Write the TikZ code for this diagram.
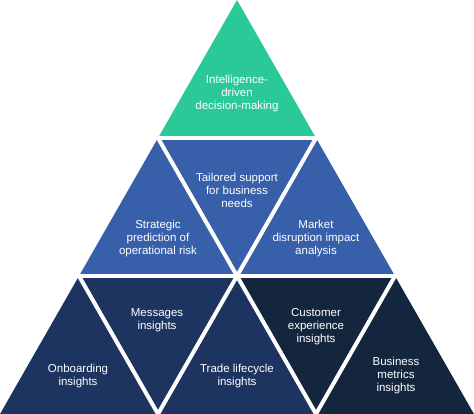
\documentclass[tikz,border=0pt]{standalone}
\usepackage{fontspec}
\setmainfont{Liberation Sans}
\definecolor{cgreen}{RGB}{43,201,152}
\definecolor{cblue}{RGB}{55,95,170}
\definecolor{cnavy}{RGB}{29,52,97}
\definecolor{cdark}{RGB}{20,38,62}
\tikzset{
  lbl/.style={text=white, align=center, font=\fontsize{11.5}{13}\selectfont, inner sep=0pt},
  sep/.style={white, line width=4pt}
}
\begin{document}
\begin{tikzpicture}[x=1pt,y=-1pt]
\useasboundingbox (0,0) rectangle (474,414);
% grid points
\coordinate (A) at (237,0);
\coordinate (L1) at (158,138); \coordinate (R1) at (316,138);
\coordinate (L2) at (79,276); \coordinate (M2) at (237,276); \coordinate (R2) at (395,276);
\coordinate (B0) at (0,414); \coordinate (B1) at (158,414); \coordinate (B2) at (316,414); \coordinate (B3) at (474,414);
% fills
\fill[cgreen] (A) -- (L1) -- (R1) -- cycle;
\fill[cblue] (L1) -- (L2) -- (M2) -- cycle;
\fill[cblue] (L1) -- (R1) -- (M2) -- cycle;
\fill[cblue] (R1) -- (M2) -- (R2) -- cycle;
\fill[cnavy] (L2) -- (B0) -- (B1) -- cycle;
\fill[cnavy] (L2) -- (M2) -- (B1) -- cycle;
\fill[cnavy] (M2) -- (B1) -- (B2) -- cycle;
\fill[cdark] (M2) -- (R2) -- (B2) -- cycle;
\fill[cdark] (R2) -- (B2) -- (B3) -- cycle;
% separators
\draw[sep] (L1) -- (R1);
\draw[sep] (L2) -- (R2);
\draw[sep] (B1) -- (L2);
\draw[sep] (B2) -- (L1);
\draw[sep] (B1) -- (R1);
\draw[sep] (B2) -- (R2);
% labels
\node[lbl] (t1) at (237,94) {Intelligence-\\driven\\decision-making};
\node[lbl] (t2) at (237,190) {Tailored support\\for business\\needs};
\node[lbl] (t3) at (158,239) {Strategic\\prediction of\\operational risk};
\node[lbl] (t4) at (316,239) {Market\\disruption impact\\analysis};
\node[lbl] (t5) at (78,376) {Onboarding\\insights};
\node[lbl] (t6) at (157,320) {Messages\\insights};
\node[lbl] (t7) at (237,376) {Trade lifecycle\\insights};
\node[lbl] (t8) at (316,327) {Customer\\experience\\insights};
\node[lbl] (t9) at (396,376) {Business\\metrics\\insights};
\end{tikzpicture}
\end{document}
